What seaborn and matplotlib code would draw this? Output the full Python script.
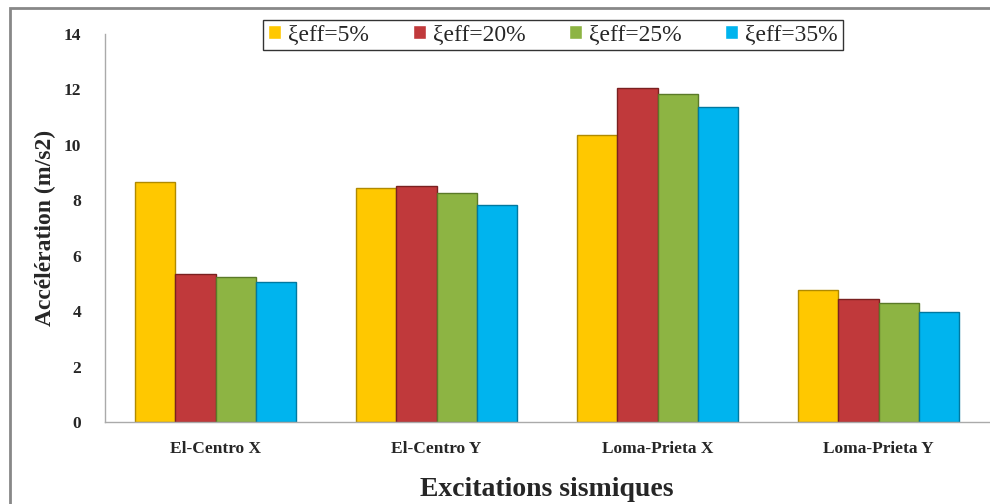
"""Accélération maximale par excitation sismique et amortissement effectif."""

import matplotlib.pyplot as plt
import numpy as np
import pandas as pd
import seaborn as sns
from matplotlib.patches import Rectangle

# ---------------------------------------------------------------------------
# Data
# ---------------------------------------------------------------------------
excitations = ["El-Centro X", "El-Centro Y", "Loma-Prieta X", "Loma-Prieta Y"]
series = ["ξeff=5%", "ξeff=20%", "ξeff=25%", "ξeff=35%"]
xi_5 = [8.65, 8.45, 10.35, 4.78]
xi_20 = [5.35, 8.50, 12.05, 4.44]
xi_25 = [5.22, 8.27, 11.82, 4.28]
xi_35 = [5.05, 7.82, 11.35, 3.97]

colors = ["#FFC800", "#C0393B", "#8DB443", "#00B4EE"]
edges = ["#B08A00", "#7A2020", "#5A7A28", "#0078A0"]

df = pd.DataFrame({
    "excitation": excitations * 4,
    "serie": np.repeat(series, len(excitations)),
    "acc": xi_5 + xi_20 + xi_25 + xi_35,
})

# ---------------------------------------------------------------------------
# Plot
# ---------------------------------------------------------------------------
sns.set_style("white")
plt.rcParams["font.family"] = ["Liberation Serif", "DejaVu Serif"]

fig = plt.figure(figsize=(9.9, 5.04), dpi=100)
ax = fig.add_axes([105 / 990, 1 - 422 / 504, (989 - 105) / 990, (422 - 34) / 504])

sns.barplot(data=df, x="excitation", y="acc", hue="serie", order=excitations,
            hue_order=series, palette=colors, width=0.725, gap=0,
            saturation=1, legend=True, ax=ax)

n = len(excitations)
for i, cont in enumerate(ax.containers):
    for bar in cont:
        bar.set_edgecolor(edges[i])
        bar.set_linewidth(1.0)

ax.set_ylim(0, 14)
ax.set_yticks(np.arange(0, 15, 2))
ax.set_xlim(-0.5, n - 0.5)
ax.set_xticks(range(n))
ax.set_xticklabels(excitations, fontsize=12.5, fontweight="bold")
ax.set_xticks(np.arange(-0.5, n, 1), minor=True)
ax.tick_params(axis="x", which="major", length=0, pad=14)
ax.tick_params(axis="x", which="minor", length=5, color="#999999", direction="out")
ax.tick_params(axis="y", length=5, color="#999999", direction="out", pad=12)
for lab in ax.get_yticklabels():
    lab.set_fontsize(12.5)
    lab.set_fontweight("bold")

for side in ("top", "right"):
    ax.spines[side].set_visible(False)
for side in ("left", "bottom"):
    ax.spines[side].set_color("#AAAAAA")
    ax.spines[side].set_linewidth(1.0)

ax.set_ylabel("Accélération (m/s2)", fontsize=17, fontweight="bold", labelpad=6)
ax.set_xlabel("Excitations sismiques", fontsize=20, fontweight="bold", labelpad=14)

handles, labels = ax.get_legend_handles_labels()
ax.legend_.remove()
leg = fig.legend(handles, labels, loc="upper center", ncol=4,
                 bbox_to_anchor=(553 / 990, 1 - 20 / 504), frameon=True,
                 fancybox=False, edgecolor="black", fontsize=17,
                 handlelength=0.55, handleheight=0.55, handletextpad=0.3,
                 columnspacing=1.85, borderpad=0.2, borderaxespad=0)
leg.get_frame().set_linewidth(1.0)

# outer chart border (left and top edges visible)
fig.patches.append(Rectangle((10 / 990, -0.05), 1.2, 1.05 - 8 / 504,
                             transform=fig.transFigure, fill=False,
                             edgecolor="#888888", linewidth=2.0))

fig.savefig("out.png", dpi=100)
